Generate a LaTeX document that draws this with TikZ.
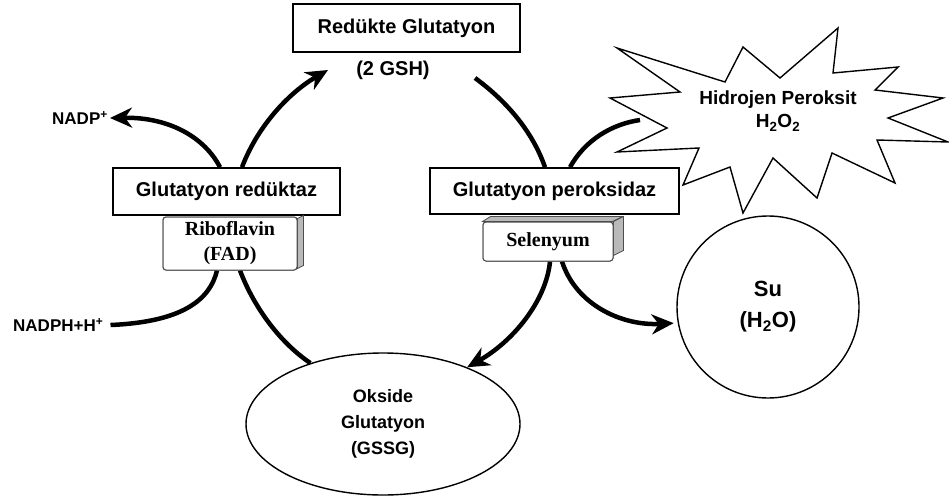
\documentclass[tikz,border=0pt]{standalone}
\usepackage{fontspec}
\setmainfont{Liberation Sans}
\newfontfamily\serifb{Liberation Serif}
\usetikzlibrary{arrows.meta,shapes.geometric}
\begin{document}
\begin{tikzpicture}[x=1pt,y=-1pt,
  box/.style={draw, line width=1.6pt, fill=white, inner sep=0pt, font=\fontsize{20}{24}\selectfont\bfseries},
  flow/.style={line width=4.5pt, -{Stealth[length=22pt,width=20pt,inset=7pt]}},
  flowplain/.style={line width=4.5pt},
  lbl/.style={inner sep=0pt, font=\fontsize{20}{24}\selectfont\bfseries, align=center},
  small/.style={inner sep=0pt, font=\fontsize{17}{20}\selectfont\bfseries},
  cof/.style={draw=gray!60!black, line width=1pt, rounded corners=3pt, fill=white, inner sep=0pt, font=\serifb\fontsize{20}{25}\selectfont\bfseries, align=center},
  side/.style={draw=gray!60!black, line width=0.8pt, fill=gray!55},
  outl/.style={draw, line width=1.4pt, fill=white},
  ]
\useasboundingbox (0,0) rectangle (949,500);

\coordinate (gshtip) at (328,70);
\coordinate (gshout) at (475,78);
\coordinate (startip) at (640,120);

\node[small, anchor=west] (nadp) at (52,118) {NADP\textsuperscript{+}};
\node[small, anchor=west] (nadph) at (13,325) {NADPH+H\textsuperscript{+}};

\node[box, minimum width=227pt, minimum height=48pt] (gsh) at (406.5,28) {Redükte Glutatyon};
\node[lbl] (gshlbl) at (393,70) {(2 GSH)};
\node[box, minimum width=227pt, minimum height=47pt] (gr) at (226.5,191.5) {Glutatyon redüktaz};
\node[box, minimum width=249pt, minimum height=46pt] (gp) at (554.5,191) {Glutatyon peroksidaz};

\node[cof, minimum width=134pt, minimum height=53pt] (rib) at (230,243.5) {Riboflavin\\(FAD)};
\node[cof, minimum width=130pt, minimum height=39pt] (sel) at (548,241.5) {Selenyum};

\node[outl, ellipse, minimum width=274pt, minimum height=142pt, inner sep=0pt, align=center,
      font=\fontsize{18}{26}\selectfont\bfseries] (gssg) at (383,424) {Okside\\Glutatyon\\(GSSG)};
\node[outl, circle, minimum size=182pt, inner sep=0pt, align=center,
      font=\fontsize{22}{31}\selectfont\bfseries] (su) at (768,307) {Su\\(H\textsubscript{2}O)};

% left cycle
\draw[flow] ([xshift=15.5pt]gr.north) .. controls (258,125) and (290,92) .. (gshtip);
\draw[flow] ([xshift=-6.5pt]gr.north) .. controls (205,138) and (170,117) .. ([xshift=2pt]nadp.east);
\draw[flowplain] ([xshift=7pt]nadph.east) .. controls (182,322) and (210,300) .. ([xshift=-13pt]rib.south);
\draw[flowplain] ([xshift=10pt]rib.south) .. controls (255,310) and (282,344) .. (gssg.140);

% right cycle
\draw[flowplain] (gshout) .. controls (505,100) and (532,130) .. ([xshift=-9.5pt]gp.north);
\draw[flowplain] ([xshift=15.5pt]gp.north) .. controls (585,140) and (612,124) .. (startip);
\draw[flow] ([xshift=2pt]sel.south) .. controls (546,302) and (512,342) .. (gssg.34);
\draw[flow, shorten >=4pt] ([xshift=14pt]sel.south) .. controls (576,305) and (622,326) .. (su.190);

% redraw boxes on top of line ends
\node[box, minimum width=227pt, minimum height=47pt] at (gr) {Glutatyon redüktaz};
\node[box, minimum width=249pt, minimum height=46pt] at (gp) {Glutatyon peroksidaz};

% 3D sides of cofactor boxes
\draw[side] (rib.north east) ++(0,2) -- ++(6,-3) -- ++(0,50) -- ++(-6,3) -- cycle;
\node[cof, minimum width=134pt, minimum height=53pt] at (rib) {Riboflavin\\(FAD)};
\draw[side] (sel.north west) -- ++(8,-5) -- ++(132,0) -- ++(-10,5) -- cycle;
\draw[side] (sel.north east) -- ++(10,-5) -- ++(0,34) -- ++(-10,5) -- cycle;
\node[cof, minimum width=130pt, minimum height=39pt] at (sel) {Selenyum};

% hydrogen peroxide burst
\draw[outl, line join=miter] (617,48) -- (725,82) -- (743,47) -- (780,78) -- (838,28) -- (833,73)
  -- (898,67) -- (875,90) -- (943,98) -- (888,118) -- (948,142) -- (877,140) -- (895,183)
  -- (832,153) -- (817,198) -- (773,158) -- (743,213) -- (730,167) -- (683,185) -- (699,148)
  -- (617,152) -- (667,128) -- (610,98) -- (680,92) -- cycle;
\node[lbl, font=\fontsize{19}{23}\selectfont\bfseries] (h2o2) at (778,111) {Hidrojen Peroksit\\H\textsubscript{2}O\textsubscript{2}};
\end{tikzpicture}
\end{document}
